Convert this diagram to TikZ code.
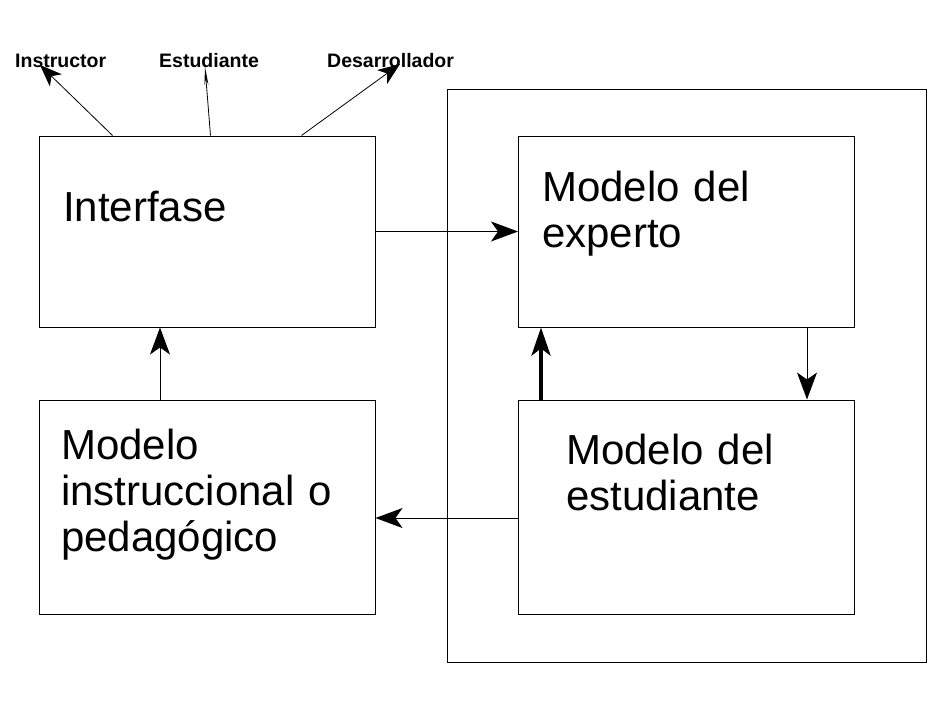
\documentclass[tikz,border=0pt]{standalone}
\usepackage{fontspec}
\setmainfont{Liberation Sans}
\usetikzlibrary{arrows.meta, positioning, calc}

\begin{document}
\begin{tikzpicture}[x=1pt, y=-1pt,
        modulo/.style={rectangle, draw=black, line width=1pt, inner sep=0pt, minimum width=336pt},
        texto/.style={anchor=base west, inner sep=0pt, text width=320pt, align=left, font=\fontsize{42}{46}\selectfont},
        etiqueta/.style={anchor=base west, inner sep=0pt, font=\fontsize{19.5}{22}\selectfont\bfseries},
        flecha/.style={line width=1pt, -{Stealth[length=27pt, width=20pt, inset=7pt]}},
        salida/.style={line width=0.8pt, -{Stealth[length=22pt, width=17pt, inset=6pt]}}
    ]
        \useasboundingbox (0,0) rectangle (942,702);
        % marco exterior
        \node[rectangle, draw, line width=1pt, inner sep=0pt, minimum width=479pt, minimum height=573pt] (marco) at (686.5,375.5) {};
        % modulos
        \node[modulo, minimum height=191pt] (interfase) at (207,231.5) {};
        \node[modulo, minimum height=214pt] (instruccional) at (207,507) {};
        \node[modulo, minimum height=191pt] (experto) at (686.5,231.5) {};
        \node[modulo, minimum height=214pt] (estudiante) at (686.5,507) {};
        \node[texto] (t-interfase) at (63,221.5) {Interfase};
        \node[texto] (t-experto) at (542,201.5) {Modelo del\\experto};
        \node[texto] (t-instruccional) at (61,459) {Modelo\\instruccional o\\pedagógico};
        \node[texto] (t-estudiante) at (566,464) {Modelo del\\estudiante};
        % usuarios
        \node[etiqueta] (instructor) at (15,67) {Instructor};
        \node[etiqueta] (alumno) at (159,67) {Estudiante};
        \node[etiqueta] (desarrollador) at (327,67) {Desarrollador};
        \coordinate (p-instructor) at (40,65);
        \coordinate (p-alumno) at (205,67);
        \coordinate (p-desarrollador) at (400,64);
        \draw[salida] ([xshift=74pt]interfase.north west) -- (p-instructor);
        \draw[line width=0.8pt, -{Stealth[length=18pt, width=4pt]}] ([xshift=172pt]interfase.north west) -- (p-alumno);
        \draw[salida] ([xshift=263pt]interfase.north west) -- (p-desarrollador);
        % flujos
        \draw[flecha] (interfase.east) -- (experto.west);
        \draw[flecha] ([xshift=-48pt]experto.south east) -- ([xshift=-48pt]estudiante.north east);
        \draw[line width=4pt, -{Stealth[length=28pt, width=19pt, inset=7pt]}] ([xshift=23pt]estudiante.north west) -- ([xshift=23pt]experto.south west);
        \draw[flecha] ([yshift=-11pt]estudiante.west) -- ([yshift=-11pt]instruccional.east);
        \draw[flecha] ([xshift=-47pt]instruccional.north) -- ([xshift=-47pt]interfase.south);
    \end{tikzpicture}
\end{document}
